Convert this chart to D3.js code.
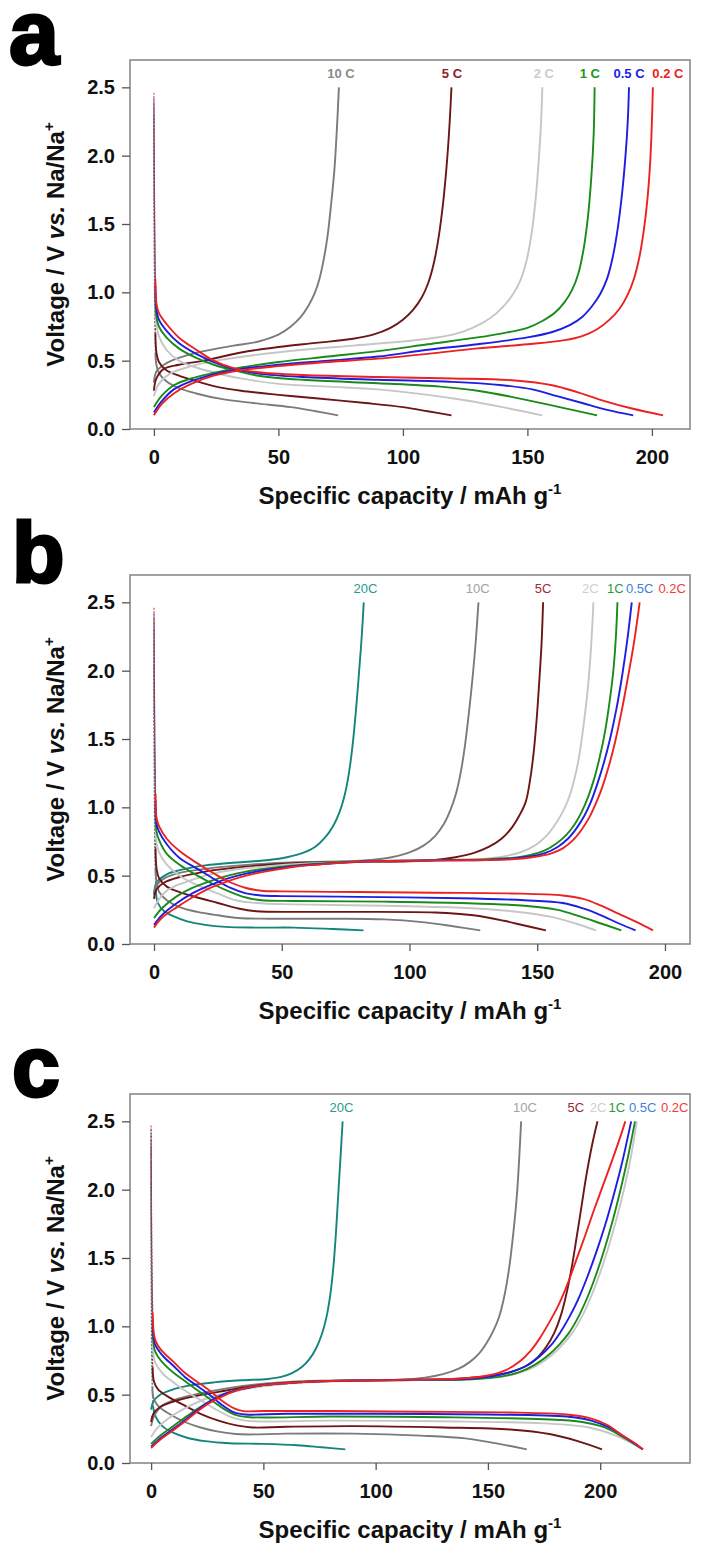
<!DOCTYPE html>
<html>
<head>
<meta charset="utf-8">
<script src="https://cdn.jsdelivr.net/npm/d3@7"></script>
<style>
  body { margin: 0; background: #fff; }
  svg { display: block; font-family: "Liberation Sans", Arial, sans-serif; }
</style>
</head>
<body>
<svg id="fig" width="707" height="1550"></svg>
<script>
// ---- data (capacity mAh/g, voltage V) ----
const ratesA = ["0.2 C", "0.5 C", "1 C", "2 C", "5 C", "10 C"];
const ratesBC = ["0.2C", "0.5C", "1C", "2C", "5C", "10C", "20C"];
const yTicks = [0, 0.5, 1.0, 1.5, 2.0, 2.5];
const xTicks = [0, 50, 100, 150, 200];

// panel a : charge (up to 2.5 V), order 0.2, 0.5, 1, 2, 5, 10 C
const chargeA = [
  [[0,0.10],[3,0.18],[8,0.26],[15,0.33],[24,0.39],[35,0.43],[50,0.46],[70,0.49],[90,0.515],[110,0.55],[130,0.59],[150,0.62],[165,0.65],[172,0.68],[178,0.73],[183,0.8],[187,0.88],[190.2,0.98],[192.8,1.1],[195,1.26],[196.8,1.46],[198.3,1.7],[199.4,1.98],[200,2.25],[200.4,2.5]],
  [[0,0.12],[3,0.2],[8,0.29],[15,0.35],[24,0.4],[35,0.44],[50,0.47],[70,0.5],[90,0.53],[110,0.58],[130,0.62],[150,0.67],[160,0.71],[167,0.76],[172,0.82],[176,0.9],[179.3,0.99],[182,1.1],[184.3,1.26],[186.3,1.47],[188,1.72],[189.4,2.0],[190.3,2.25],[190.8,2.5]],
  [[0,0.16],[3,0.24],[8,0.32],[15,0.37],[24,0.41],[35,0.45],[50,0.49],[70,0.53],[90,0.57],[110,0.62],[130,0.67],[140,0.7],[150,0.74],[156,0.79],[161,0.85],[165,0.93],[168,1.02],[170.5,1.14],[172.6,1.32],[174.3,1.55],[175.7,1.85],[176.6,2.15],[177,2.5]],
  [[0,0.24],[2,0.33],[6,0.4],[15,0.46],[25,0.5],[40,0.54],[60,0.58],[80,0.61],[100,0.64],[110,0.66],[120,0.69],[128,0.74],[135,0.81],[140,0.89],[144,0.98],[147,1.08],[149.5,1.22],[151.6,1.42],[153.3,1.68],[154.6,1.98],[155.5,2.25],[156,2.5]],
  [[0,0.28],[1,0.37],[4,0.44],[10,0.47],[20,0.5],[35,0.56],[50,0.6],[65,0.63],[80,0.66],[88,0.69],[95,0.74],[100,0.8],[104,0.87],[107.5,0.96],[110.2,1.07],[112.5,1.22],[114.5,1.42],[116.3,1.68],[117.8,1.98],[118.8,2.25],[119.5,2.5]],
  [[0,0.34],[1,0.42],[4,0.47],[10,0.52],[20,0.57],[32,0.61],[42,0.64],[50,0.69],[55,0.75],[59,0.82],[62,0.9],[64.5,0.99],[66.5,1.1],[68.3,1.25],[69.8,1.42],[71.2,1.65],[72.5,1.9],[73.5,2.2],[74.3,2.5]]
];
// panel a : discharge (down to 0.1 V)
const dischargeA = [
  [[0,2.46],[0.1,2.0],[0.3,1.5],[0.6,1.1],[1,0.92],[2,0.85],[5,0.77],[10,0.67],[17,0.58],[24,0.5],[32,0.445],[42,0.415],[60,0.395],[90,0.38],[120,0.37],[145,0.355],[160,0.32],[170,0.27],[180,0.21],[192,0.15],[204.5,0.1]],
  [[0,2.42],[0.1,2.0],[0.3,1.5],[0.6,1.05],[1,0.88],[2,0.8],[5,0.72],[10,0.63],[17,0.55],[24,0.49],[32,0.44],[42,0.405],[60,0.38],[90,0.36],[120,0.345],[140,0.32],[152,0.29],[162,0.24],[172,0.19],[182,0.14],[192.5,0.1]],
  [[0,2.38],[0.1,1.9],[0.3,1.4],[0.6,1.0],[1,0.82],[2,0.75],[5,0.67],[10,0.59],[17,0.52],[24,0.47],[32,0.43],[42,0.39],[60,0.36],[90,0.335],[115,0.31],[130,0.28],[145,0.23],[158,0.18],[168,0.14],[178,0.1]],
  [[0,2.35],[0.1,1.8],[0.3,1.3],[0.6,0.9],[1,0.76],[2,0.68],[5,0.58],[10,0.5],[17,0.45],[25,0.41],[35,0.37],[50,0.33],[70,0.31],[90,0.29],[110,0.25],[125,0.21],[140,0.16],[156,0.1]],
  [[0,2.3],[0.1,1.7],[0.3,1.1],[0.6,0.7],[1,0.56],[2,0.49],[5,0.43],[10,0.39],[17,0.35],[25,0.31],[35,0.28],[50,0.25],[65,0.225],[85,0.19],[100,0.16],[110,0.13],[119.5,0.1]],
  [[0,2.2],[0.1,1.5],[0.3,0.9],[0.6,0.56],[1,0.47],[2,0.41],[5,0.35],[10,0.3],[17,0.26],[27,0.22],[40,0.19],[55,0.16],[65,0.13],[74,0.1]]
];

// panel b, order 0.2, 0.5, 1, 2, 5, 10, 20 C
const chargeB = [
  [[0,0.12],[3,0.19],[9,0.27],[15,0.34],[22,0.41],[29,0.46],[36,0.5],[45,0.535],[55,0.565],[70,0.59],[85,0.605],[100,0.61],[115,0.612],[130,0.615],[140,0.62],[148,0.635],[155,0.66],[160,0.7],[164,0.76],[167.5,0.84],[170.5,0.93],[173,1.03],[175.5,1.15],[178,1.3],[180.5,1.48],[183,1.7],[185.5,1.95],[188,2.22],[190.1,2.5]],
  [[0,0.14],[3,0.21],[9,0.3],[15,0.37],[22,0.43],[29,0.48],[36,0.515],[45,0.545],[55,0.57],[70,0.59],[85,0.605],[100,0.61],[115,0.613],[130,0.615],[140,0.625],[147,0.64],[153,0.665],[158,0.71],[162,0.77],[165.5,0.85],[168.5,0.94],[171,1.04],[173.5,1.17],[176,1.32],[178.5,1.5],[181,1.72],[183.3,1.97],[185.3,2.23],[187,2.5]],
  [[0,0.19],[3,0.26],[9,0.35],[15,0.41],[22,0.46],[29,0.5],[36,0.53],[45,0.555],[55,0.575],[70,0.595],[85,0.605],[100,0.61],[115,0.615],[130,0.62],[140,0.63],[147,0.65],[153,0.685],[157.5,0.735],[161.5,0.8],[164.8,0.88],[167.5,0.97],[170,1.08],[172.3,1.21],[174.5,1.37],[176.5,1.55],[178.3,1.77],[179.8,2.0],[180.8,2.25],[181.4,2.5]],
  [[0,0.26],[2,0.33],[5,0.39],[9,0.43],[15,0.47],[22,0.51],[30,0.54],[45,0.57],[60,0.59],[80,0.6],[100,0.61],[120,0.615],[130,0.625],[138,0.645],[144,0.675],[149,0.72],[153,0.78],[156.5,0.86],[159.5,0.95],[162,1.05],[164.2,1.18],[166.2,1.35],[168,1.58],[169.7,1.85],[171,2.15],[172,2.5]],
  [[0,0.33],[1,0.4],[4,0.45],[10,0.49],[20,0.53],[30,0.555],[45,0.58],[60,0.595],[80,0.6],[100,0.605],[110,0.615],[118,0.635],[125,0.665],[131,0.71],[136,0.77],[140,0.85],[143,0.94],[145.5,1.04],[147.2,1.2],[148.6,1.4],[149.8,1.65],[150.9,1.95],[151.7,2.2],[152.3,2.5]],
  [[0,0.37],[1,0.43],[4,0.48],[10,0.52],[20,0.55],[30,0.57],[45,0.59],[60,0.6],[75,0.605],[85,0.615],[93,0.635],[100,0.67],[105.5,0.72],[110,0.79],[113.5,0.88],[116,0.98],[118.2,1.1],[120,1.25],[121.7,1.45],[123.3,1.7],[124.8,1.97],[126,2.23],[127,2.5]],
  [[0,0.36],[1,0.45],[5,0.51],[10,0.54],[20,0.575],[35,0.6],[45,0.615],[52,0.635],[58,0.665],[63,0.71],[67,0.78],[70,0.86],[72.5,0.96],[74.5,1.08],[76.2,1.24],[77.7,1.45],[79,1.7],[80.3,2.0],[81.3,2.25],[82.1,2.5]]
];
const dischargeB = [
  [[0,2.46],[0.1,2.0],[0.3,1.5],[0.6,1.1],[1,0.92],[2,0.86],[5,0.77],[10,0.68],[17,0.59],[24,0.51],[30,0.45],[36,0.41],[42,0.39],[50,0.385],[80,0.38],[110,0.375],[140,0.37],[160,0.355],[168,0.33],[175,0.28],[182,0.22],[189,0.16],[195.3,0.1]],
  [[0,2.42],[0.1,2.0],[0.3,1.5],[0.6,1.05],[1,0.88],[2,0.82],[5,0.73],[10,0.63],[17,0.55],[24,0.47],[30,0.41],[36,0.37],[42,0.355],[50,0.35],[80,0.345],[120,0.335],[145,0.32],[160,0.3],[168,0.26],[175,0.21],[182,0.15],[188.5,0.1]],
  [[0,2.38],[0.1,1.9],[0.3,1.4],[0.6,1.0],[1,0.82],[2,0.76],[5,0.66],[10,0.58],[17,0.5],[24,0.43],[30,0.38],[36,0.34],[42,0.32],[55,0.315],[90,0.31],[120,0.3],[145,0.28],[158,0.25],[167,0.2],[175,0.15],[182.9,0.1]],
  [[0,2.35],[0.1,1.8],[0.3,1.3],[0.6,0.9],[1,0.74],[2,0.67],[5,0.58],[10,0.5],[17,0.43],[25,0.37],[32,0.32],[40,0.3],[55,0.29],[90,0.28],[120,0.265],[140,0.24],[155,0.2],[165,0.15],[173,0.1]],
  [[0,2.3],[0.1,1.7],[0.3,1.1],[0.6,0.7],[1,0.55],[2,0.48],[5,0.42],[10,0.38],[17,0.34],[25,0.3],[33,0.26],[40,0.24],[55,0.235],[80,0.235],[110,0.23],[125,0.21],[137,0.17],[145,0.135],[153.4,0.1]],
  [[0,2.2],[0.1,1.5],[0.3,0.9],[0.6,0.55],[1,0.45],[2,0.38],[5,0.32],[10,0.27],[17,0.235],[25,0.21],[33,0.19],[45,0.185],[70,0.185],[90,0.18],[105,0.16],[117,0.13],[127.7,0.1]],
  [[0,2.1],[0.1,1.3],[0.3,0.7],[0.7,0.4],[1.5,0.3],[4,0.24],[8,0.2],[13,0.165],[20,0.14],[28,0.125],[40,0.12],[55,0.12],[70,0.11],[82,0.1]]
];

// panel c, order 0.2, 0.5, 1, 2, 5, 10, 20 C
const chargeC = [
  [[0,0.11],[4,0.17],[9,0.23],[14,0.29],[20,0.37],[26,0.44],[32,0.49],[40,0.54],[50,0.57],[65,0.59],[80,0.6],[100,0.605],[120,0.61],[140,0.62],[150,0.64],[158,0.68],[164,0.74],[169,0.82],[173,0.91],[177,1.02],[181,1.14],[185,1.29],[189,1.47],[193,1.65],[197,1.84],[201,2.02],[205,2.2],[208.2,2.35],[211.2,2.5]],
  [[0,0.12],[4,0.18],[9,0.24],[14,0.3],[20,0.38],[26,0.45],[32,0.5],[40,0.54],[50,0.57],[65,0.59],[80,0.6],[100,0.605],[120,0.61],[140,0.615],[152,0.635],[160,0.665],[167,0.71],[173,0.78],[178,0.86],[182,0.95],[186,1.06],[190,1.19],[194,1.35],[198,1.53],[202,1.73],[206,1.96],[209.5,2.18],[213.8,2.5]],
  [[0,0.14],[4,0.2],[9,0.26],[14,0.32],[20,0.39],[26,0.45],[32,0.5],[40,0.54],[50,0.57],[65,0.59],[80,0.6],[100,0.605],[120,0.61],[140,0.61],[155,0.63],[164,0.665],[171,0.72],[177,0.79],[182,0.87],[186,0.95],[190,1.06],[194,1.2],[198,1.37],[202,1.57],[206,1.8],[209.5,2.03],[212.5,2.25],[215.5,2.5]],
  [[0,0.19],[3,0.26],[8,0.33],[14,0.39],[20,0.44],[28,0.49],[36,0.52],[45,0.55],[55,0.57],[70,0.59],[90,0.6],[110,0.605],[130,0.61],[145,0.615],[156,0.63],[165,0.665],[172.5,0.72],[178.5,0.79],[183.5,0.87],[187.5,0.95],[191.5,1.06],[195.5,1.2],[199.5,1.37],[203.5,1.57],[207.5,1.8],[211,2.03],[213.8,2.25],[216.3,2.5]],
  [[0,0.3],[1,0.36],[4,0.41],[10,0.45],[20,0.49],[30,0.52],[42,0.555],[55,0.58],[70,0.595],[90,0.6],[110,0.605],[130,0.61],[140,0.62],[150,0.635],[160,0.665],[167,0.71],[172,0.77],[176,0.85],[179.5,0.95],[182.5,1.08],[185,1.24],[187.3,1.43],[189.5,1.65],[191.7,1.88],[193.8,2.1],[196.3,2.32],[198.8,2.5]],
  [[0,0.27],[1.5,0.35],[5,0.42],[12,0.47],[22,0.51],[35,0.55],[50,0.58],[70,0.6],[90,0.605],[110,0.61],[122,0.625],[130,0.65],[137,0.69],[142,0.74],[146,0.8],[149.5,0.88],[152.5,0.97],[155,1.07],[157.3,1.22],[159.4,1.42],[161.3,1.68],[163,1.98],[164,2.25],[164.8,2.5]],
  [[0,0.39],[1,0.45],[4,0.5],[10,0.54],[18,0.57],[28,0.59],[40,0.605],[52,0.615],[58,0.63],[63,0.66],[67,0.7],[70.5,0.76],[73.5,0.84],[76,0.94],[78,1.06],[79.7,1.22],[81.1,1.42],[82.3,1.68],[83.4,1.98],[84.4,2.25],[85.3,2.5]]
];
const dischargeC = [
  [[0,2.47],[0.1,2.0],[0.3,1.5],[0.7,1.1],[1.5,0.92],[3,0.86],[6,0.8],[10,0.74],[15,0.66],[20,0.6],[26,0.53],[32,0.45],[37,0.4],[41,0.38],[50,0.38],[80,0.38],[120,0.375],[160,0.37],[185,0.355],[195,0.33],[203,0.28],[210,0.2],[215,0.15],[219,0.1]],
  [[0,2.44],[0.1,2.0],[0.3,1.5],[0.7,1.05],[1.5,0.88],[3,0.83],[6,0.77],[10,0.71],[15,0.63],[20,0.57],[26,0.5],[32,0.42],[37,0.37],[42,0.355],[60,0.36],[100,0.36],[150,0.355],[185,0.34],[196,0.31],[204,0.26],[211,0.19],[219,0.1]],
  [[0,2.4],[0.1,1.9],[0.3,1.4],[0.7,1.0],[1.5,0.83],[3,0.78],[6,0.72],[10,0.66],[15,0.6],[20,0.54],[26,0.47],[32,0.4],[38,0.35],[44,0.335],[80,0.34],[130,0.335],[175,0.32],[192,0.3],[202,0.26],[210,0.19],[219,0.1]],
  [[0,2.36],[0.1,1.8],[0.3,1.3],[0.7,0.9],[1.5,0.75],[3,0.7],[6,0.64],[10,0.59],[15,0.53],[20,0.48],[28,0.4],[35,0.34],[42,0.31],[80,0.31],[130,0.305],[175,0.29],[195,0.26],[207,0.2],[219,0.1]],
  [[0,2.3],[0.1,1.7],[0.3,1.1],[0.7,0.7],[1.2,0.6],[3,0.54],[8,0.48],[15,0.42],[22,0.36],[30,0.31],[38,0.275],[45,0.26],[60,0.265],[90,0.27],[130,0.26],[160,0.245],[178,0.21],[190,0.16],[200.8,0.1]],
  [[0,2.2],[0.1,1.5],[0.3,0.9],[0.6,0.56],[1,0.48],[3,0.42],[8,0.36],[15,0.3],[22,0.26],[30,0.23],[40,0.21],[60,0.215],[90,0.215],[120,0.2],[140,0.18],[155,0.14],[167.3,0.1]],
  [[0,2.05],[0.1,1.3],[0.3,0.7],[0.8,0.42],[2,0.34],[5,0.27],[10,0.22],[16,0.185],[24,0.16],[35,0.145],[50,0.14],[65,0.13],[76,0.115],[86.5,0.1]]
];

// ---- styling ----
const lineColors = ["#ec2222", "#1e1ee0", "#1b8a1b", "#c6c6c6", "#6c1616", "#7b7b7b", "#13857b"];
const labelColorsA = ["#ee1c1c", "#1c1ce6", "#1a961a", "#cdcdcd", "#8c1c2a", "#8a8a8a"];
const labelColorsBC = ["#f03c3c", "#3c82d8", "#2a9a3c", "#d0d0d0", "#9c2a3c", "#a2a2a2", "#2a9a92"];

const panels = [
  { letter: "a", letterSize: 90, letterX: 9, letterY: 64, top: 60, bottom: 429, xDomain: [-9.6, 215.3],
    rates: ratesA, charge: chargeA, discharge: dischargeA, labelColors: labelColorsA, bold: true,
    labelX: [206.4, 190.8, 175.1, 156.6, 119.7, 75.1] },
  { letter: "b", letterSize: 86, letterX: 12, letterY: 582, top: 575, bottom: 944, xDomain: [-9.4, 209.8],
    rates: ratesBC, charge: chargeB, discharge: dischargeB, labelColors: labelColorsBC, bold: false,
    labelX: [202.8, 190.1, 180.6, 170.8, 152.3, 126.7, 82.8] },
  { letter: "c", letterSize: 86, letterX: 12, letterY: 1096, top: 1094, bottom: 1463, xDomain: [-9.4, 240],
    rates: ratesBC, charge: chargeC, discharge: dischargeC, labelColors: labelColorsBC, bold: false,
    labelX: [233.2, 218.9, 207.4, 199.1, 189.2, 166.5, 84.8] }
];

const left = 130, right = 690;
const svg = d3.select("#fig");

panels.forEach(p => {
  const g = svg.append("g");
  const x = d3.scaleLinear().domain(p.xDomain).range([left, right]);
  const y = d3.scaleLinear().domain([0, 2.7]).range([p.bottom, p.top]);

  // panel letter
  g.append("text")
    .attr("x", p.letterX).attr("y", p.letterY)
    .attr("font-size", p.letterSize).attr("font-weight", "bold")
    .attr("stroke", "#000").attr("stroke-width", 3)
    .text(p.letter);

  // frame
  g.append("rect")
    .attr("x", left).attr("y", p.top)
    .attr("width", right - left).attr("height", p.bottom - p.top)
    .attr("fill", "none").attr("stroke", "#8a8a8a").attr("stroke-width", 1.6);

  // axes
  const yAxis = g.append("g").attr("transform", `translate(${left},0)`)
    .call(d3.axisLeft(y).tickValues(yTicks).tickFormat(d3.format(".1f")).tickSize(8).tickPadding(7));
  const xAxis = g.append("g").attr("transform", `translate(0,${p.bottom})`)
    .call(d3.axisBottom(x).tickValues(xTicks).tickSize(7).tickPadding(14));
  [yAxis, xAxis].forEach(ax => {
    ax.select(".domain").remove();
    ax.selectAll("line").attr("stroke", "#555").attr("stroke-width", 1.3);
    ax.selectAll("text").attr("font-size", 20).attr("font-weight", "bold")
      .attr("fill", "#111").attr("font-family", "'Liberation Sans', Arial, sans-serif");
  });

  // axis titles
  const yt = g.append("text")
    .attr("transform", `translate(64,${(p.top + p.bottom) / 2}) rotate(-90)`)
    .attr("text-anchor", "middle").attr("font-size", 24).attr("font-weight", "bold").attr("fill", "#111");
  yt.append("tspan").text("Voltage / V ");
  yt.append("tspan").attr("font-style", "italic").text("vs.");
  yt.append("tspan").text(" Na/Na");
  yt.append("tspan").attr("dy", -10).attr("font-size", 15).text("+");

  const xt = g.append("text")
    .attr("x", (left + right) / 2).attr("y", p.bottom + 75)
    .attr("text-anchor", "middle").attr("font-size", 24).attr("font-weight", "bold").attr("fill", "#111");
  xt.append("tspan").text("Specific capacity / mAh g");
  xt.append("tspan").attr("dy", -10).attr("font-size", 15).text("-1");

  // curves
  const line = d3.line()
    .x(d => x(d[0])).y(d => y(d[1]))
    .curve(d3.curveCatmullRom.alpha(0.5));
  const curves = g.append("g").attr("fill", "none").attr("stroke-linejoin", "round");
  d3.range(p.rates.length).reverse().forEach(i => {
    // the initial near-vertical drop of the discharge is drawn as a faint dotted trace
    const dis = p.discharge[i];
    const k = dis.findIndex(d => d[0] >= 0.6);
    curves.append("path")
      .attr("d", line(dis.slice(0, k + 1)))
      .attr("stroke", lineColors[i]).attr("stroke-width", 1.3)
      .attr("stroke-dasharray", "2,1.5").attr("opacity", 0.75);
    curves.append("path")
      .attr("d", line(dis.slice(k)))
      .attr("stroke", lineColors[i]).attr("stroke-width", 1.9);
    curves.append("path")
      .attr("d", line(p.charge[i]))
      .attr("stroke", lineColors[i]).attr("stroke-width", 1.9);
  });

  // rate labels at the top
  g.append("g").selectAll("text")
    .data(p.rates)
    .join("text")
    .attr("x", (d, i) => x(p.labelX[i]))
    .attr("y", y(2.6))
    .attr("dy", "0.35em")
    .attr("text-anchor", "middle")
    .attr("font-size", 13)
    .attr("font-weight", p.bold ? "bold" : "normal")
    .attr("fill", (d, i) => p.labelColors[i])
    .text(d => d);
});
</script>
</body>
</html>
